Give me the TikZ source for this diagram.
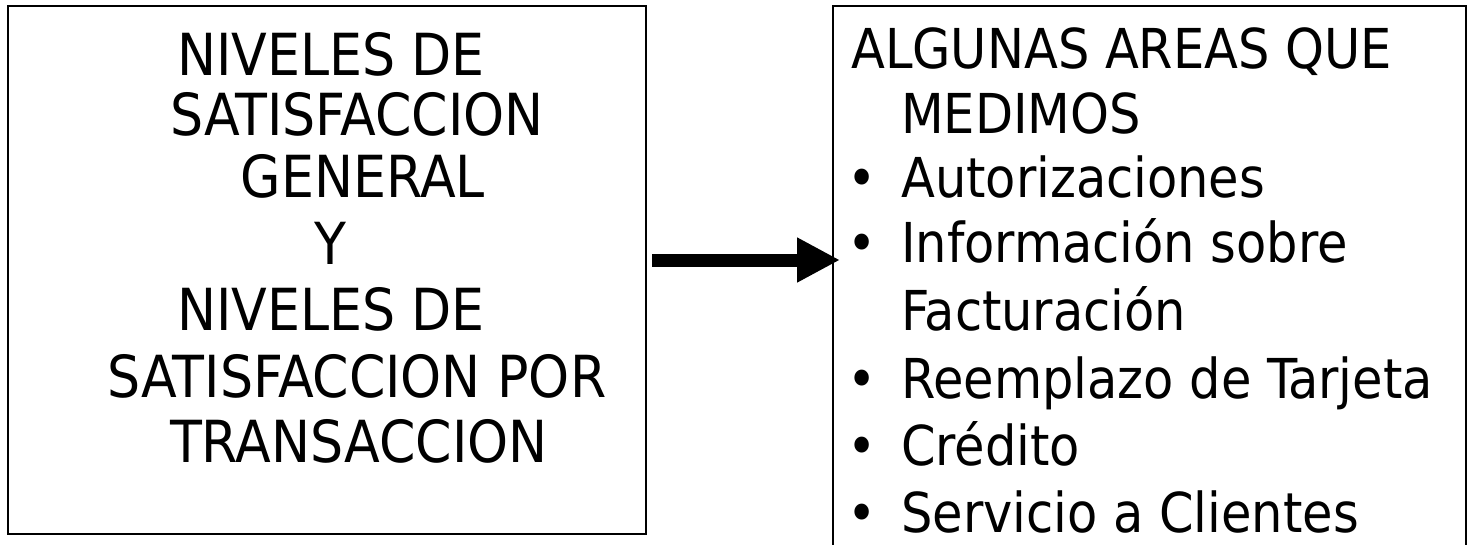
\documentclass[tikz,border=0pt]{standalone}
\usepackage{fontspec}
\setmainfont{DejaVu Sans Condensed}
\usetikzlibrary{arrows.meta}
\tikzset{
  panel/.style={draw=black, line width=2pt, rectangle, inner sep=0pt, anchor=north west},
  ltext/.style={font=\fontsize{58}{60}\selectfont, inner sep=0pt, text=black, anchor=base},
  rtext/.style={font=\fontsize{55}{66}\selectfont, inner sep=0pt, text=black, anchor=base west},
  bigarrow/.style={line width=13pt, -{Triangle[length=43pt,width=42pt]}}
}
\newcommand{\bul}{\makebox[78pt][c]{•}}
\begin{document}
\begin{tikzpicture}[x=1pt,y=-1pt]
\useasboundingbox (0,0) rectangle (1470,544);
\fill[white] (0,0) rectangle (1470,544);
\node[panel, minimum width=638pt, minimum height=528pt] (L) at (7,5) {};
\begin{scope}
\clip (0,0) rectangle (1470,544);
\node[panel, minimum width=633pt, minimum height=560pt] (R) at (832,5) {};
\end{scope}
% left box text
\node[ltext] (l1) at (331,75)  {NIVELES DE};
\node[ltext] (l2) at (357,135) {SATISFACCION};
\node[ltext] (l3) at (363,197) {GENERAL};
\node[ltext] (l4) at (330,264) {Y};
\node[ltext] (l5) at (331,330) {NIVELES DE};
\node[ltext] (l6) at (357,397) {SATISFACCION POR};
\node[ltext] (l7) at (359,462) {TRANSACCION};
% right box text
\node[rtext] (r1) at (851,68)  {ALGUNAS AREAS QUE};
\node[rtext] (r2) at (901,133) {MEDIMOS};
\node[rtext] (r3) at (823,197) {\bul Autorizaciones};
\node[rtext] (r4) at (823,262) {\bul Información sobre};
\node[rtext] (r5) at (901,330) {Facturación};
\node[rtext] (r6) at (823,398) {\bul Reemplazo de Tarjeta};
\node[rtext] (r7) at (823,465) {\bul Crédito};
\node[rtext] (r8) at (823,532) {\bul Servicio a Clientes};
% arrow
\coordinate (ay) at (0,260);
\draw[bigarrow] ([xshift=5pt]L.east |- ay) -- ([xshift=8pt]R.west |- ay);
\end{tikzpicture}
\end{document}
